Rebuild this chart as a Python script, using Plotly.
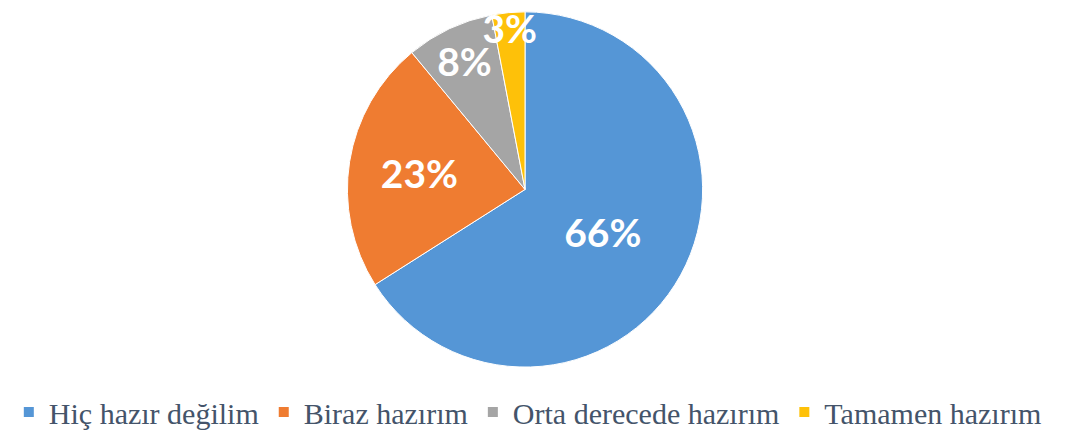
import plotly.graph_objects as go

labels = ["Hiç hazır değilim", "Biraz hazırım", "Orta derecede hazırım", "Tamamen hazırım"]
values = [66, 23, 8, 3]
colors = ["#5596d6", "#ef7c31", "#a5a5a5", "#fec109"]
templates = ["%{percent:.0%}", "%{percent:.0%}", "%{percent:.0%}", " <br>%{percent:.0%}<br> "]

fig = go.Figure(go.Pie(
    labels=labels,
    values=values,
    sort=False,
    direction="clockwise",
    rotation=0,
    marker=dict(colors=colors, line=dict(color="white", width=1)),
    textinfo="percent",
    texttemplate=templates,
    textposition="inside",
    insidetextorientation="horizontal",
    textfont=dict(family="Lato", size=39, color="white", weight="bold"),
    domain=dict(x=[0.2814, 0.6814], y=[0.163, 0.991]),
    hole=0,
))

fig.update_layout(
    width=1074, height=430,
    margin=dict(l=0, r=0, t=0, b=0),
    paper_bgcolor="white",
    uniformtext=dict(minsize=39, mode="show"),
    showlegend=True,
    legend=dict(
        orientation="h",
        x=0.484, xanchor="center",
        y=0.058, yanchor="middle",
        font=dict(family="Liberation Serif", size=30, color="#44546a"),
        itemsizing="constant",
        itemwidth=30,
        tracegroupgap=0,
    ),
)

fig.write_html("out.html")
